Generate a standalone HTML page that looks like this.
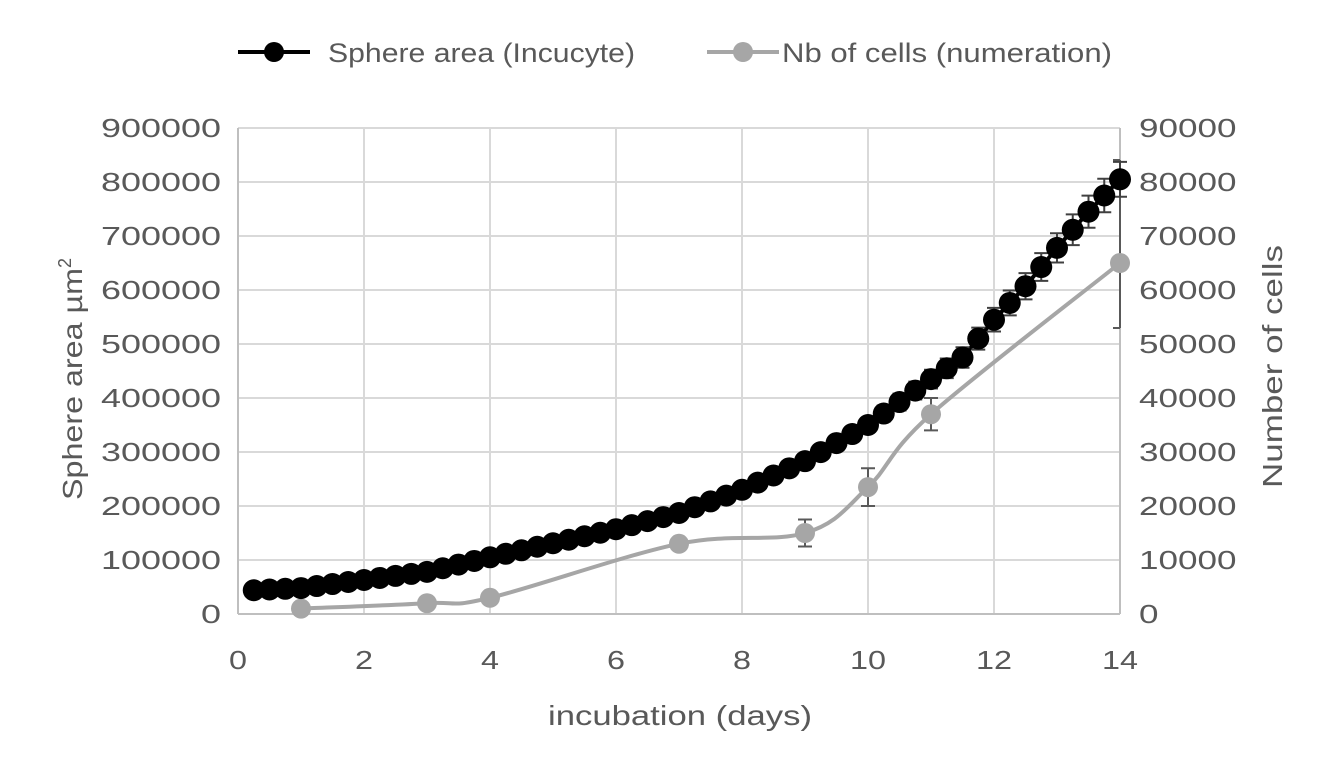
<!DOCTYPE html>
<html><head><meta charset="utf-8"><style>
body{margin:0;background:#fff;}
svg{display:block;font-family:"Liberation Sans",sans-serif;}
</style></head><body>
<svg id="s" width="1340" height="781" xmlns="http://www.w3.org/2000/svg"></svg>
<script>
const s=document.getElementById('s');
const X=t=>238+t*63, Y=v=>614-v*0.00054, Y2=v=>614-v*0.0054;
let h='';
for(let i=0;i<=9;i++){const y=Y(i*100000);h+=`<line x1="238" y1="${y}" x2="1120" y2="${y}" stroke="#d9d9d9" stroke-width="2"/>`;
const l=String(i*100000),r=String(i*10000);
h+=`<text x="221" y="${y+9}" text-anchor="end" font-size="26" fill="#595959" textLength="${l.length*20}" lengthAdjust="spacingAndGlyphs">${l}</text>`;
h+=`<text x="1139" y="${y+9}" font-size="26" fill="#595959" textLength="${r.length*19.5}" lengthAdjust="spacingAndGlyphs">${r}</text>`;}
for(let i=0;i<=14;i+=2){const x=X(i);h+=`<line x1="${x}" y1="128" x2="${x}" y2="614" stroke="#d9d9d9" stroke-width="2"/>`;
const l=String(i);h+=`<text x="${x}" y="669" text-anchor="middle" font-size="26" fill="#595959" textLength="${l.length*18}" lengthAdjust="spacingAndGlyphs">${l}</text>`;}
h+=`<line x1="238" y1="128" x2="238" y2="614" stroke="#bfbfbf" stroke-width="2"/><line x1="238" y1="614" x2="1120" y2="614" stroke="#bfbfbf" stroke-width="2"/><line x1="1120" y1="128" x2="1120" y2="614" stroke="#bfbfbf" stroke-width="2"/>`;
h+=`<text x="548" y="725" font-size="28" fill="#595959" textLength="264" lengthAdjust="spacingAndGlyphs">incubation (days)</text>`;
h+=`<text transform="translate(82,500) rotate(-90)" font-size="28" fill="#595959"><tspan textLength="232" lengthAdjust="spacingAndGlyphs">Sphere area µm</tspan><tspan dy="-11" font-size="18">2</tspan></text>`;
h+=`<text transform="translate(1282,488) rotate(-90)" font-size="28" fill="#595959" textLength="243" lengthAdjust="spacingAndGlyphs">Number of cells</text>`;
h+=`<line x1="238" y1="52" x2="310" y2="52" stroke="#000" stroke-width="4"/><circle cx="274" cy="52" r="10" fill="#000"/>`;
h+=`<text x="328" y="62" font-size="27" fill="#595959" textLength="307" lengthAdjust="spacingAndGlyphs">Sphere area (Incucyte)</text>`;
h+=`<line x1="707" y1="52" x2="779" y2="52" stroke="#a6a6a6" stroke-width="4"/><circle cx="743" cy="52" r="10" fill="#a6a6a6"/>`;
h+=`<text x="782" y="62" font-size="27" fill="#595959" textLength="330" lengthAdjust="spacingAndGlyphs">Nb of cells (numeration)</text>`;
const g=[[1,1000],[3,2000],[4,3000],[7,13000],[9,15000],[10,23500],[11,37000],[14,65000]];
const gp=g.map(p=>[X(p[0]),Y2(p[1])]);
let d=`M${gp[0][0]},${gp[0][1]}`;
for(let i=0;i<gp.length-1;i++){const p0=gp[Math.max(0,i-1)],p1=gp[i],p2=gp[i+1],p3=gp[Math.min(gp.length-1,i+2)];
const k=0.17;d+=` C${p1[0]+(p2[0]-p0[0])*k},${p1[1]+(p2[1]-p0[1])*k} ${p2[0]-(p3[0]-p1[0])*k},${p2[1]-(p3[1]-p1[1])*k} ${p2[0]},${p2[1]}`;}
h+=`<path d="${d}" fill="none" stroke="#a6a6a6" stroke-width="4"/>`;
const ge={7:1000,9:2500,10:3500,11:3000};
for(const k in ge){const x=X(+k),v=g.find(p=>p[0]==k)[1];h+=`<path d="M${x},${Y2(v-ge[k])}V${Y2(v+ge[k])}M${x-7},${Y2(v-ge[k])}h14M${x-7},${Y2(v+ge[k])}h14" stroke="#595959" stroke-width="2" fill="none"/>`;}
h+=`<path d="M1120,160V328M1113,328h7M1113,160h7" stroke="#595959" stroke-width="2" fill="none"/>`;
gp.forEach(p=>h+=`<circle cx="${p[0]}" cy="${p[1]}" r="10" fill="#a6a6a6"/>`);
const kn=[[0.25,44000],[1,48000],[2,63000],[3,78000],[4,105000],[5,131000],[6,157000],[7,187000],[8,230000],[9,283000],[10,350000],[11,435000],[11.5,475000],[12,545000],[12.5,607000],[13,678000],[13.5,745000],[14,805000]];
function f(t){for(let i=0;i<kn.length-1;i++){if(t<=kn[i+1][0]){const a=kn[i],b=kn[i+1];return a[1]+(b[1]-a[1])*(t-a[0])/(b[0]-a[0]);}}return 805000;}
let pts=[];for(let t=0.25;t<=14.001;t+=0.25)pts.push([X(t),Y(f(t)),t]);
h+=`<polyline points="${pts.map(p=>p[0]+','+p[1]).join(' ')}" fill="none" stroke="#000" stroke-width="4"/>`;
pts.forEach(p=>{if(p[2]>=9.75){const e=f(p[2])*0.04*0.00054;h+=`<path d="M${p[0]},${p[1]-e}V${p[1]+e}M${p[0]-7},${p[1]-e}h14M${p[0]-7},${p[1]+e}h14" stroke="#404040" stroke-width="2" fill="none"/>`;}});
pts.forEach(p=>h+=`<circle cx="${p[0]}" cy="${p[1]}" r="11" fill="#000"/>`);
s.innerHTML=h;
</script>
</body></html>
